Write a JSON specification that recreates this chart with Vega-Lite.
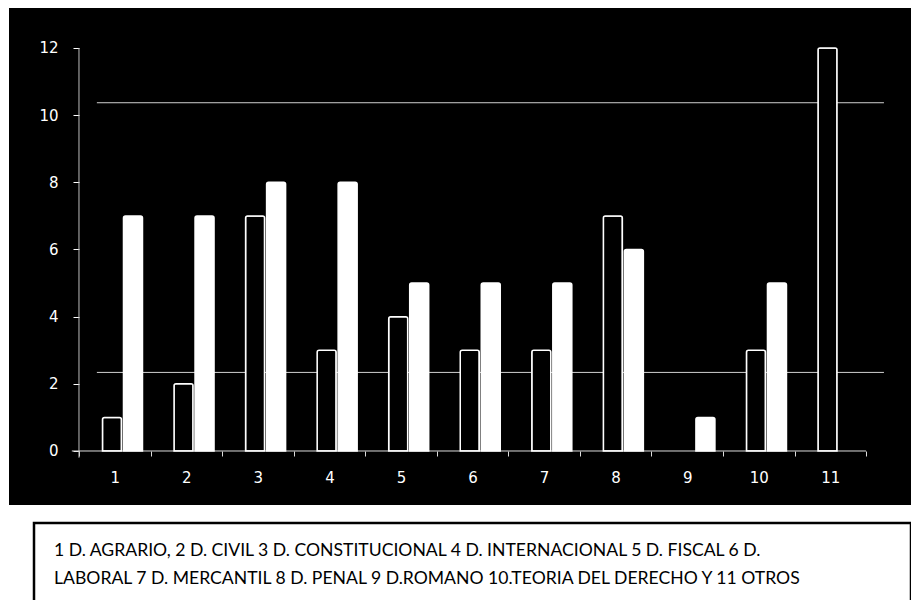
{
  "$schema": "https://vega.github.io/schema/vega-lite/v6.json",
  "background": "white",
  "padding": {"left": 9, "top": 8, "right": 0, "bottom": 0},
  "spacing": 16,
  "config": {"font": "DejaVu Sans", "view": {"stroke": null}},
  "vconcat": [
    {
      "width": 902,
      "height": 497,
      "view": {"fill": "black", "stroke": null},
      "layer": [
        {
          "data": {"values": [{"level": 10.37}, {"level": 2.34}]},
          "mark": {"type": "rule", "color": "#d0d0d0", "strokeWidth": 1},
          "encoding": {
            "y": {
              "field": "level",
              "type": "quantitative",
              "title": null,
              "scale": {"domain": [-1.608, 13.191], "nice": false, "zero": false},
              "axis": {"orient": "left", "offset": -70, "values": [0, 2, 4, 6, 8, 10, 12], "domain": false, "tickColor": "white", "tickSize": 6, "labelColor": "white", "labelFontSize": 15, "labelPadding": 15, "grid": false, "title": null}
            },
            "x": {
              "datum": "1",
              "type": "ordinal",
              "bandPosition": 0.25,
              "title": null,
              "scale": {"type": "band", "domain": ["1","2","3","4","5","6","7","8","9","10","11"], "paddingInner": 0, "paddingOuter": 0.803, "align": 0.609},
              "axis": {"orient": "bottom", "offset": -54, "domain": false, "tickBand": "extent", "tickColor": "#dddddd", "tickSize": 5, "labelColor": "white", "labelFontSize": 15, "labelPadding": 14, "labelAngle": 0, "grid": false, "title": null}
            },
            "x2": {"datum": "11", "bandPosition": 1.25}
          }
        },
        {
          "data": {"values": [{}]},
          "mark": {"type": "rule", "color": "#bdbdbd", "strokeWidth": 1},
          "encoding": {
            "x": {
              "datum": "1",
              "type": "ordinal",
              "bandPosition": 0,
              "title": null,
              "scale": {"type": "band", "domain": ["1","2","3","4","5","6","7","8","9","10","11"], "paddingInner": 0, "paddingOuter": 0.803, "align": 0.609},
              "axis": {"orient": "bottom", "offset": -54, "domain": false, "tickBand": "extent", "tickColor": "#dddddd", "tickSize": 5, "labelColor": "white", "labelFontSize": 15, "labelPadding": 14, "labelAngle": 0, "grid": false, "title": null}
            },
            "y": {
              "datum": -0.2,
              "type": "quantitative",
              "title": null,
              "scale": {"domain": [-1.608, 13.191], "nice": false, "zero": false},
              "axis": {"orient": "left", "offset": -70, "values": [0, 2, 4, 6, 8, 10, 12], "domain": false, "tickColor": "white", "tickSize": 6, "labelColor": "white", "labelFontSize": 15, "labelPadding": 15, "grid": false, "title": null}
            },
            "y2": {"datum": 12}
          }
        },
        {
          "data": {"values": [{}]},
          "mark": {"type": "rule", "color": "#dddddd", "strokeWidth": 1},
          "encoding": {
            "y": {
              "datum": 0,
              "type": "quantitative",
              "title": null,
              "scale": {"domain": [-1.608, 13.191], "nice": false, "zero": false},
              "axis": {"orient": "left", "offset": -70, "values": [0, 2, 4, 6, 8, 10, 12], "domain": false, "tickColor": "white", "tickSize": 6, "labelColor": "white", "labelFontSize": 15, "labelPadding": 15, "grid": false, "title": null}
            },
            "x": {
              "datum": "1",
              "type": "ordinal",
              "bandPosition": -0.1,
              "title": null,
              "scale": {"type": "band", "domain": ["1","2","3","4","5","6","7","8","9","10","11"], "paddingInner": 0, "paddingOuter": 0.803, "align": 0.609},
              "axis": {"orient": "bottom", "offset": -54, "domain": false, "tickBand": "extent", "tickColor": "#dddddd", "tickSize": 5, "labelColor": "white", "labelFontSize": 15, "labelPadding": 14, "labelAngle": 0, "grid": false, "title": null}
            },
            "x2": {"datum": "11", "bandPosition": 1}
          }
        },
        {
          "data": {
            "values": [
              {"cat": "1", "serie": "Serie 1", "value": 1},
              {"cat": "1", "serie": "Serie 2", "value": 7},
              {"cat": "2", "serie": "Serie 1", "value": 2},
              {"cat": "2", "serie": "Serie 2", "value": 7},
              {"cat": "3", "serie": "Serie 1", "value": 7},
              {"cat": "3", "serie": "Serie 2", "value": 8},
              {"cat": "4", "serie": "Serie 1", "value": 3},
              {"cat": "4", "serie": "Serie 2", "value": 8},
              {"cat": "5", "serie": "Serie 1", "value": 4},
              {"cat": "5", "serie": "Serie 2", "value": 5},
              {"cat": "6", "serie": "Serie 1", "value": 3},
              {"cat": "6", "serie": "Serie 2", "value": 5},
              {"cat": "7", "serie": "Serie 1", "value": 3},
              {"cat": "7", "serie": "Serie 2", "value": 5},
              {"cat": "8", "serie": "Serie 1", "value": 7},
              {"cat": "8", "serie": "Serie 2", "value": 6},
              {"cat": "9", "serie": "Serie 2", "value": 1},
              {"cat": "10", "serie": "Serie 1", "value": 3},
              {"cat": "10", "serie": "Serie 2", "value": 5},
              {"cat": "11", "serie": "Serie 1", "value": 12}
            ]
          },
          "mark": {"type": "bar", "stroke": "white", "strokeWidth": 1.5, "cornerRadiusTopLeft": 2, "cornerRadiusTopRight": 2},
          "encoding": {
            "x": {
              "field": "cat",
              "type": "ordinal",
              "title": null,
              "scale": {"type": "band", "domain": ["1","2","3","4","5","6","7","8","9","10","11"], "paddingInner": 0, "paddingOuter": 0.803, "align": 0.609},
              "axis": {"orient": "bottom", "offset": -54, "domain": false, "tickBand": "extent", "tickColor": "#dddddd", "tickSize": 5, "labelColor": "white", "labelFontSize": 15, "labelPadding": 14, "labelAngle": 0, "grid": false, "title": null}
            },
            "xOffset": {
              "field": "serie",
              "type": "nominal",
              "scale": {"domain": ["Serie 1", "Serie 2"], "paddingInner": 0.095, "paddingOuter": 0.751, "align": 0.745}
            },
            "y": {
              "field": "value",
              "type": "quantitative",
              "title": null,
              "scale": {"domain": [-1.608, 13.191], "nice": false, "zero": false},
              "axis": {"orient": "left", "offset": -70, "values": [0, 2, 4, 6, 8, 10, 12], "domain": false, "tickColor": "white", "tickSize": 6, "labelColor": "white", "labelFontSize": 15, "labelPadding": 15, "grid": false, "title": null}
            },
            "color": {
              "field": "serie",
              "type": "nominal",
              "scale": {"domain": ["Serie 1", "Serie 2"], "range": ["black", "white"]},
              "legend": null
            }
          }
        }
      ]
    },
    {
      "spacing": 22,
      "hconcat": [
        {
          "width": 1,
          "height": 90,
          "view": {"stroke": null},
          "data": {"values": [{"t": ""}]},
          "mark": {"type": "text"},
          "encoding": {"text": {"field": "t"}}
        },
        {
          "width": 877,
          "height": 90,
          "view": {"fill": "white", "stroke": "black", "strokeWidth": 2.5},
          "data": {
            "values": [
              {"line": 1, "label": "1 D. AGRARIO, 2 D. CIVIL  3 D. CONSTITUCIONAL 4 D. INTERNACIONAL 5 D.  FISCAL  6 D."},
              {"line": 2, "label": "LABORAL  7 D. MERCANTIL 8 D. PENAL 9 D.ROMANO 10.TEORIA DEL DERECHO Y 11 OTROS"}
            ]
          },
          "mark": {"type": "text", "align": "left", "baseline": "middle", "font": "Lato", "fontSize": 17.6, "color": "black", "dx": 20},
          "encoding": {
            "x": {"datum": 0, "type": "quantitative", "scale": {"domain": [0, 1]}, "axis": null},
            "y": {"field": "line", "type": "quantitative", "scale": {"domain": [0, 3.214], "reverse": true}, "axis": null},
            "text": {"field": "label"}
          }
        }
      ]
    }
  ]
}
